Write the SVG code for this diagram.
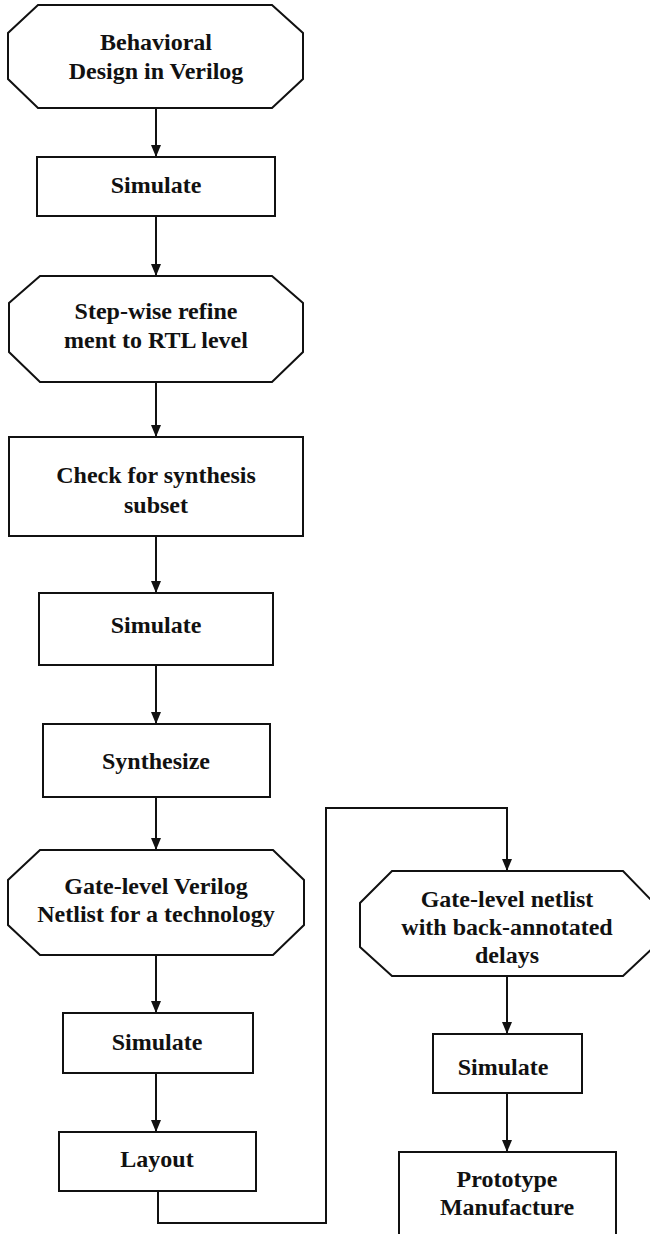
<svg xmlns="http://www.w3.org/2000/svg" width="650" height="1234" viewBox="0 0 650 1234">
<style>
.n{fill:#fff;stroke:#111;stroke-width:2;stroke-linejoin:miter}
.c{fill:none;stroke:#111;stroke-width:2}
text{font-family:"Liberation Serif","Times New Roman",serif;font-weight:bold;font-size:24px;fill:#111;text-anchor:middle}
</style>
<defs>
<marker id="ah" viewBox="0 0 12 10" refX="12" refY="5" markerWidth="12" markerHeight="10" markerUnits="userSpaceOnUse" orient="auto">
<path d="M0,0 L12,5 L0,10 z" fill="#111"/>
</marker>
</defs>
<rect width="650" height="1234" fill="#fff"/>
<g id="connectors">
<path class="c" d="M156,108 V157" marker-end="url(#ah)"/>
<path class="c" d="M156,216 V276" marker-end="url(#ah)"/>
<path class="c" d="M156,382 V437" marker-end="url(#ah)"/>
<path class="c" d="M156,536 V593" marker-end="url(#ah)"/>
<path class="c" d="M156,665 V724" marker-end="url(#ah)"/>
<path class="c" d="M156,797 V850" marker-end="url(#ah)"/>
<path class="c" d="M156,955 V1013" marker-end="url(#ah)"/>
<path class="c" d="M156,1073 V1132" marker-end="url(#ah)"/>
<path class="c" d="M158,1191 V1223 H326 V808 H507 V871" marker-end="url(#ah)"/>
<path class="c" d="M507,976 V1034" marker-end="url(#ah)"/>
<path class="c" d="M507,1093 V1152" marker-end="url(#ah)"/>
</g>
<g id="behavioral">
<polygon class="n" points="38,5 272,5 303,33 303,79 272,108 38,108 8,79 8,33"/>
<text x="156" y="50">Behavioral</text>
<text x="156" y="79">Design in Verilog</text>
</g>
<g id="simulate1">
<rect class="n" x="37" y="157" width="238" height="59"/>
<text x="156" y="193">Simulate</text>
</g>
<g id="refine">
<polygon class="n" points="40,276 272,276 303,303 303,352 272,382 40,382 9,352 9,303"/>
<text x="156" y="319">Step-wise refine</text>
<text x="156" y="348">ment to RTL level</text>
</g>
<g id="check">
<rect class="n" x="9" y="437" width="294" height="99"/>
<text x="156" y="483">Check for synthesis</text>
<text x="156" y="513">subset</text>
</g>
<g id="simulate2">
<rect class="n" x="39" y="593" width="234" height="72"/>
<text x="156" y="633">Simulate</text>
</g>
<g id="synthesize">
<rect class="n" x="43" y="724" width="227" height="73"/>
<text x="156" y="769">Synthesize</text>
</g>
<g id="gatelevel">
<polygon class="n" points="40,850 273,850 304,880 304,925 273,955 40,955 8,925 8,880"/>
<text x="156" y="894">Gate-level Verilog</text>
<text x="156" y="922">Netlist for a technology</text>
</g>
<g id="simulate3">
<rect class="n" x="63" y="1013" width="190" height="60"/>
<text x="157" y="1050">Simulate</text>
</g>
<g id="layout">
<rect class="n" x="59" y="1132" width="197" height="59"/>
<text x="157" y="1167">Layout</text>
</g>
<g id="backannotated">
<polygon class="n" points="392,871 623,871 654,903 654,947 623,976 392,976 360,947 360,903"/>
<text x="507" y="907">Gate-level netlist</text>
<text x="507" y="935">with back-annotated</text>
<text x="507" y="963">delays</text>
</g>
<g id="simulate4">
<rect class="n" x="433" y="1034" width="149" height="59"/>
<text x="503" y="1075">Simulate</text>
</g>
<g id="prototype">
<rect class="n" x="399" y="1152" width="217" height="90"/>
<text x="507" y="1187">Prototype</text>
<text x="507" y="1215">Manufacture</text>
</g>
</svg>
